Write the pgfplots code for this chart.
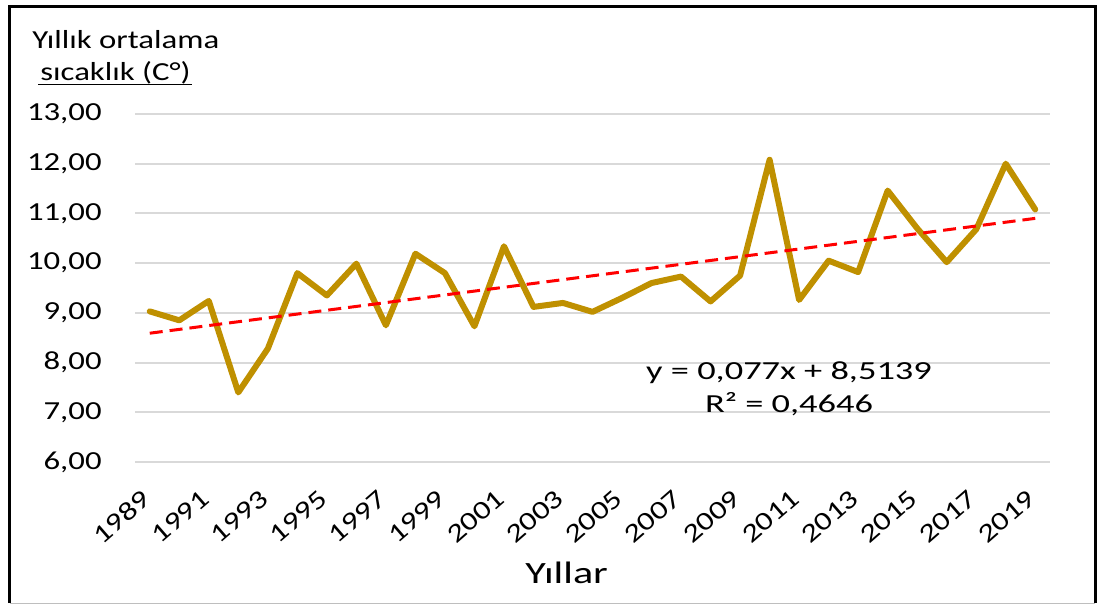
\documentclass[border=0pt]{standalone}
\usepackage{fontspec}
\setmainfont{Carlito}[FakeStretch=1.26]
\newfontfamily\eqfont{Carlito}[FakeStretch=1.40]
\newfontfamily\labfont{Carlito}[FakeStretch=1.36]
\usepackage{pgfplots}
\pgfplotsset{compat=1.18}
\definecolor{gold}{RGB}{191,144,0}
\definecolor{gridgray}{RGB}{217,217,217}
\begin{document}
\begin{tikzpicture}
\path[use as bounding box] (0,0) rectangle (548.5pt,-303pt);
\begin{axis}[
  at={(67.5pt,-231pt)}, anchor=south west,
  scale only axis, width=457.5pt, height=174pt,
  xmin=1988.5, xmax=2019.5, ymin=6, ymax=13,
  xtick={1989,1991,...,2019},
  ytick={6,7,...,13},
  axis line style={draw=none},
  major tick length=0pt,
  ymajorgrids, grid style={gridgray, line width=1pt},
  /pgf/number format/assume math mode=true,
  xticklabel style={/pgf/number format/1000 sep={}, font=\fontsize{13}{16}\selectfont, rotate=41, anchor=east, inner sep=0pt, xshift=-2pt},
  xticklabel shift=15pt,
  yticklabel style={/pgf/number format/.cd, fixed, fixed zerofill, precision=2, use comma, /tikz/.cd, font=\fontsize{13}{16}\selectfont, anchor=east, inner sep=0pt, xshift=-16.5pt},
  clip=false,
]
\addplot[gold, line width=3pt, line join=round, line cap=round] coordinates {
(1989,9.03) (1990,8.85) (1991,9.24) (1992,7.40) (1993,8.28) (1994,9.80)
(1995,9.35) (1996,9.99) (1997,8.75) (1998,10.19) (1999,9.80) (2000,8.73)
(2001,10.34) (2002,9.12) (2003,9.20) (2004,9.02) (2005,9.30) (2006,9.60)
(2007,9.73) (2008,9.23) (2009,9.75) (2010,12.08) (2011,9.26) (2012,10.05)
(2013,9.82) (2014,11.46) (2015,10.70) (2016,10.02) (2017,10.68) (2018,12.00)
(2019,11.08)};
\addplot[red, line width=1.5pt, dash pattern=on 6.5pt off 3.5pt] coordinates {(1989,8.5909) (2019,10.9009)};
\end{axis}
% frame
\draw[black, line width=1.5pt] (4.75pt,-301.5pt) -- (4.75pt,-3pt) -- (547.5pt,-3pt) -- (547.5pt,-301.5pt);
\draw[gridgray!70!gray, line width=0.8pt] (4.75pt,-301.8pt) -- (547.5pt,-301.8pt);
% titles
\node[anchor=base west, inner sep=0pt, font=\fontsize{13}{16}\selectfont] at (16pt,-24pt) {Yıllık ortalama};
\node[anchor=base west, inner sep=0pt, font=\fontsize{13}{16}\selectfont] at (20pt,-40pt) {sıcaklık (C°)};
\draw[black, line width=0.8pt] (19pt,-42.2pt) -- (96pt,-42.2pt);
\node[anchor=base west, inner sep=0pt, font=\labfont\fontsize{15.5}{18}\selectfont] at (262.5pt,-291.5pt) {Yıllar};
\node[anchor=base, inner sep=0pt, font=\eqfont\fontsize{13}{16}\selectfont] at (394.5pt,-189.5pt) {y = 0,077x + 8,5139};
\node[anchor=base, inner sep=0pt, font=\eqfont\fontsize{13}{16}\selectfont] at (394.5pt,-206pt) {R² = 0,4646};
\end{tikzpicture}
\end{document}
